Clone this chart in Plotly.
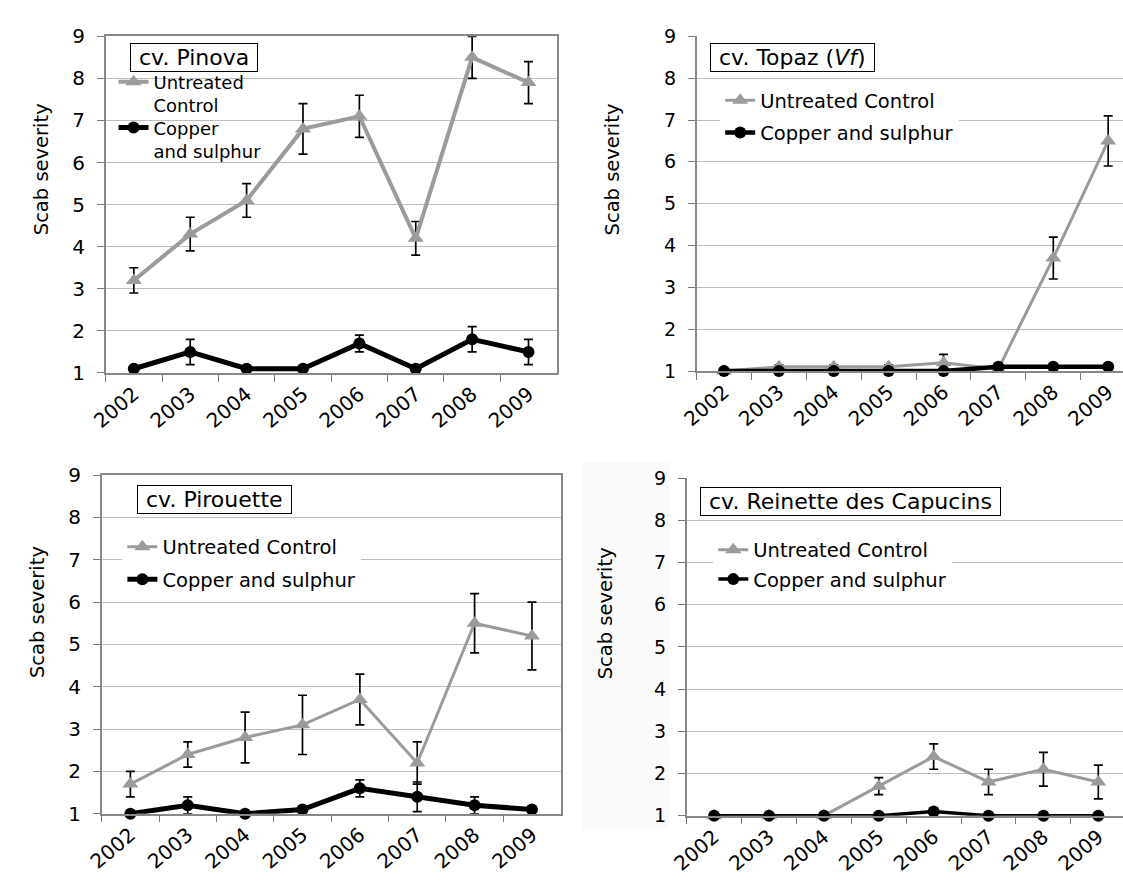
import plotly.graph_objects as go

years = ["2002", "2003", "2004", "2005", "2006", "2007", "2008", "2009"]
y_ticks = [1, 2, 3, 4, 5, 6, 7, 8, 9]

# cv. Pinova
pinova_ctrl = [3.2, 4.3, 5.1, 6.8, 7.1, 4.2, 8.5, 7.9]
pinova_ctrl_err = [0.3, 0.4, 0.4, 0.6, 0.5, 0.4, 0.5, 0.5]
pinova_cu = [1.1, 1.5, 1.1, 1.1, 1.7, 1.1, 1.8, 1.5]
pinova_cu_err = [0, 0.3, 0, 0, 0.2, 0, 0.3, 0.3]

# cv. Topaz (Vf)
topaz_ctrl = [1.0, 1.1, 1.1, 1.1, 1.2, 1.05, 3.7, 6.5]
topaz_ctrl_err = [0, 0.05, 0.05, 0.05, 0.2, 0, 0.5, 0.6]
topaz_cu = [1.0, 1.0, 1.0, 1.0, 1.0, 1.1, 1.1, 1.1]
topaz_cu_err = [0, 0, 0, 0, 0, 0, 0, 0]

# cv. Pirouette
pir_ctrl = [1.7, 2.4, 2.8, 3.1, 3.7, 2.2, 5.5, 5.2]
pir_ctrl_err = [0.3, 0.3, 0.6, 0.7, 0.6, 0.5, 0.7, 0.8]
pir_cu = [1.0, 1.2, 1.0, 1.1, 1.6, 1.4, 1.2, 1.1]
pir_cu_err = [0, 0.2, 0, 0, 0.2, 0.35, 0.2, 0]

# cv. Reinette des Capucins
rei_ctrl = [1.0, 1.0, 1.0, 1.7, 2.4, 1.8, 2.1, 1.8]
rei_ctrl_err = [0, 0, 0, 0.2, 0.3, 0.3, 0.4, 0.4]
rei_cu = [1.0, 1.0, 1.0, 1.0, 1.1, 1.0, 1.0, 1.0]
rei_cu_err = [0, 0, 0, 0, 0, 0, 0, 0]

W, H = 1123, 888
FONT = "DejaVu Sans"
GREY = "#9b9b9b"
NB = "\u00a0"

def px_x(v):
    return v / W

def px_y(v):
    return 1 - v / H

panels = [
    dict(ctrl=pinova_ctrl, ce=pinova_ctrl_err, cu=pinova_cu, cue=pinova_cu_err,
         xd=(90, 548), yd=(25, 371), xr=7.5, box=True, gw=4, bw=5,
         title="cv. Pinova", tpos=(115, 32),
         lc="Untreated<br>Control", lu="Copper<br>and sulphur",
         lg=("legend4", "legend5"), lpos=(98, 53), lpos2=(98, 100), gap=0,
         ylab=(25, 162), ytf=20),
    dict(ctrl=topaz_ctrl, ce=topaz_ctrl_err, cu=topaz_cu, cue=topaz_cu_err,
         xd=(690, 1123), yd=(25, 369), xr=7.27, box=False, gw=3, bw=4.5,
         title="cv. Topaz (<i>Vf</i>)", tpos=(704, 32),
         lc="Untreated Control", lu="Copper and sulphur",
         lg=("legend",), lpos=(714, 71), gap=4,
         ylab=(605, 162), ytf=19),
    dict(ctrl=pir_ctrl, ce=pir_ctrl_err, cu=pir_cu, cue=pir_cu_err,
         xd=(86, 552), yd=(476, 824), xr=7.5, box=True, gw=3, bw=5,
         title="cv. Pirouette", tpos=(122, 486),
         lc="Untreated Control", lu="Copper and sulphur",
         lg=("legend2",), lpos=(107, 530), gap=4,
         ylab=(21, 617), ytf=20),
    dict(ctrl=rei_ctrl, ce=rei_ctrl_err, cu=rei_cu, cue=rei_cu_err,
         xd=(680, 1123), yd=(479, 826), xr=7.45, box=False, gw=3, bw=3.5,
         title="cv. Reinette des Capucins", tpos=(694, 488),
         lc="Untreated Control", lu="Copper and sulphur",
         lg=("legend3",), lpos=(707, 533), gap=1,
         ylab=(597, 618), ytf=19),
]

fig = go.Figure()
layout = dict(
    width=W, height=H, margin=dict(l=0, r=0, t=0, b=0),
    paper_bgcolor="white", plot_bgcolor="white",
    font=dict(family=FONT, color="black"),
    annotations=[], shapes=[], showlegend=True,
)

# faint scan-tone rectangle in lower-right panel
layout["shapes"].append(dict(type="rect", xref="paper", yref="paper",
                             x0=px_x(574), x1=px_x(662), y0=px_y(840), y1=px_y(462),
                             fillcolor="#fafafa", line=dict(width=0), layer="below"))

for i, p in enumerate(panels, start=1):
    xa = "x" if i == 1 else f"x{i}"
    ya = "y" if i == 1 else f"y{i}"
    lg1 = p["lg"][0]
    lg2 = p["lg"][-1]
    fig.add_trace(go.Scatter(
        x=years, y=p["ctrl"], xaxis=xa, yaxis=ya, name=p["lc"], legend=lg1,
        legendgroup=f"c{i}", mode="lines+markers", cliponaxis=False, showlegend=True,
        line=dict(color=GREY, width=p["gw"]),
        marker=dict(symbol="triangle-up", size=14, color=GREY),
        error_y=dict(type="data", array=p["ce"], color="black", thickness=1.7, width=4.5),
    ))
    fig.add_trace(go.Scatter(
        x=years, y=p["cu"], xaxis=xa, yaxis=ya, name=p["lu"], legend=lg2,
        legendgroup=f"u{i}", mode="lines+markers", cliponaxis=False, showlegend=True,
        line=dict(color="black", width=p["bw"]),
        marker=dict(symbol="circle", size=12, color="black"),
        error_y=dict(type="data", array=p["cue"], color="black", thickness=1.7, width=4.5),
    ))
    xkey = "xaxis" if i == 1 else f"xaxis{i}"
    ykey = "yaxis" if i == 1 else f"yaxis{i}"
    layout[xkey] = dict(
        domain=[px_x(p["xd"][0]), px_x(p["xd"][1])], anchor=ya,
        type="category", categoryorder="array", categoryarray=years,
        range=[-0.5, p["xr"]], tickangle=-40, ticks="outside", tickson="boundaries",
        ticklen=7, tickcolor="#777", showline=True, linecolor="#888", linewidth=1.5,
        mirror=p["box"], showgrid=False, tickfont=dict(size=20, family=FONT, color="black"),
        fixedrange=True,
    )
    layout[ykey] = dict(
        domain=[px_y(p["yd"][1]), px_y(p["yd"][0])], anchor=xa,
        range=[1, 9], tickvals=y_ticks, ticks="outside", ticklen=7, tickcolor="#777",
        showline=True, linecolor="#888", linewidth=1.5, mirror=p["box"],
        showgrid=True, gridcolor="#bdbdbd", gridwidth=1, zeroline=False,
        tickfont=dict(size=p["ytf"], family=FONT, color="black"),
        ticklabelstandoff=8, fixedrange=True,
    )
    if len(p["lg"]) == 2:
        for lg, pos in ((lg1, p["lpos"]), (lg2, p["lpos2"])):
            layout[lg] = dict(
                x=px_x(pos[0]), y=px_y(pos[1]), xanchor="left", yanchor="top",
                xref="paper", yref="paper", bgcolor="rgba(255,255,255,0)", borderwidth=0,
                font=dict(size=18, family=FONT, color="black"), valign="top",
                itemwidth=30, visible=True,
            )
    else:
        layout[lg1] = dict(
            x=px_x(p["lpos"][0]), y=px_y(p["lpos"][1]), xanchor="left", yanchor="top",
            xref="paper", yref="paper", bgcolor="white", borderwidth=0,
            font=dict(size=19.5, family=FONT, color="black"),
            traceorder="grouped", tracegroupgap=p["gap"], valign="middle",
            itemwidth=30, visible=True,
        )
    layout["annotations"].append(dict(
        text=NB + p["title"] + NB, xref="paper", yref="paper",
        x=px_x(p["tpos"][0]), y=px_y(p["tpos"][1]), xanchor="left", yanchor="top",
        showarrow=False, bordercolor="black", borderwidth=1, borderpad=1,
        bgcolor="white", font=dict(size=22, family=FONT, color="black"),
    ))
    layout["annotations"].append(dict(
        text="Scab severity", xref="paper", yref="paper",
        x=px_x(p["ylab"][0]), y=px_y(p["ylab"][1]), xanchor="center", yanchor="middle",
        textangle=-90, showarrow=False, font=dict(size=19.5, family=FONT, color="black"),
    ))

fig.update_layout(**layout)
fig.write_html("out.html", config={"displayModeBar": False},
               post_script="document.body.style.margin='0';document.body.style.overflow='hidden';")
